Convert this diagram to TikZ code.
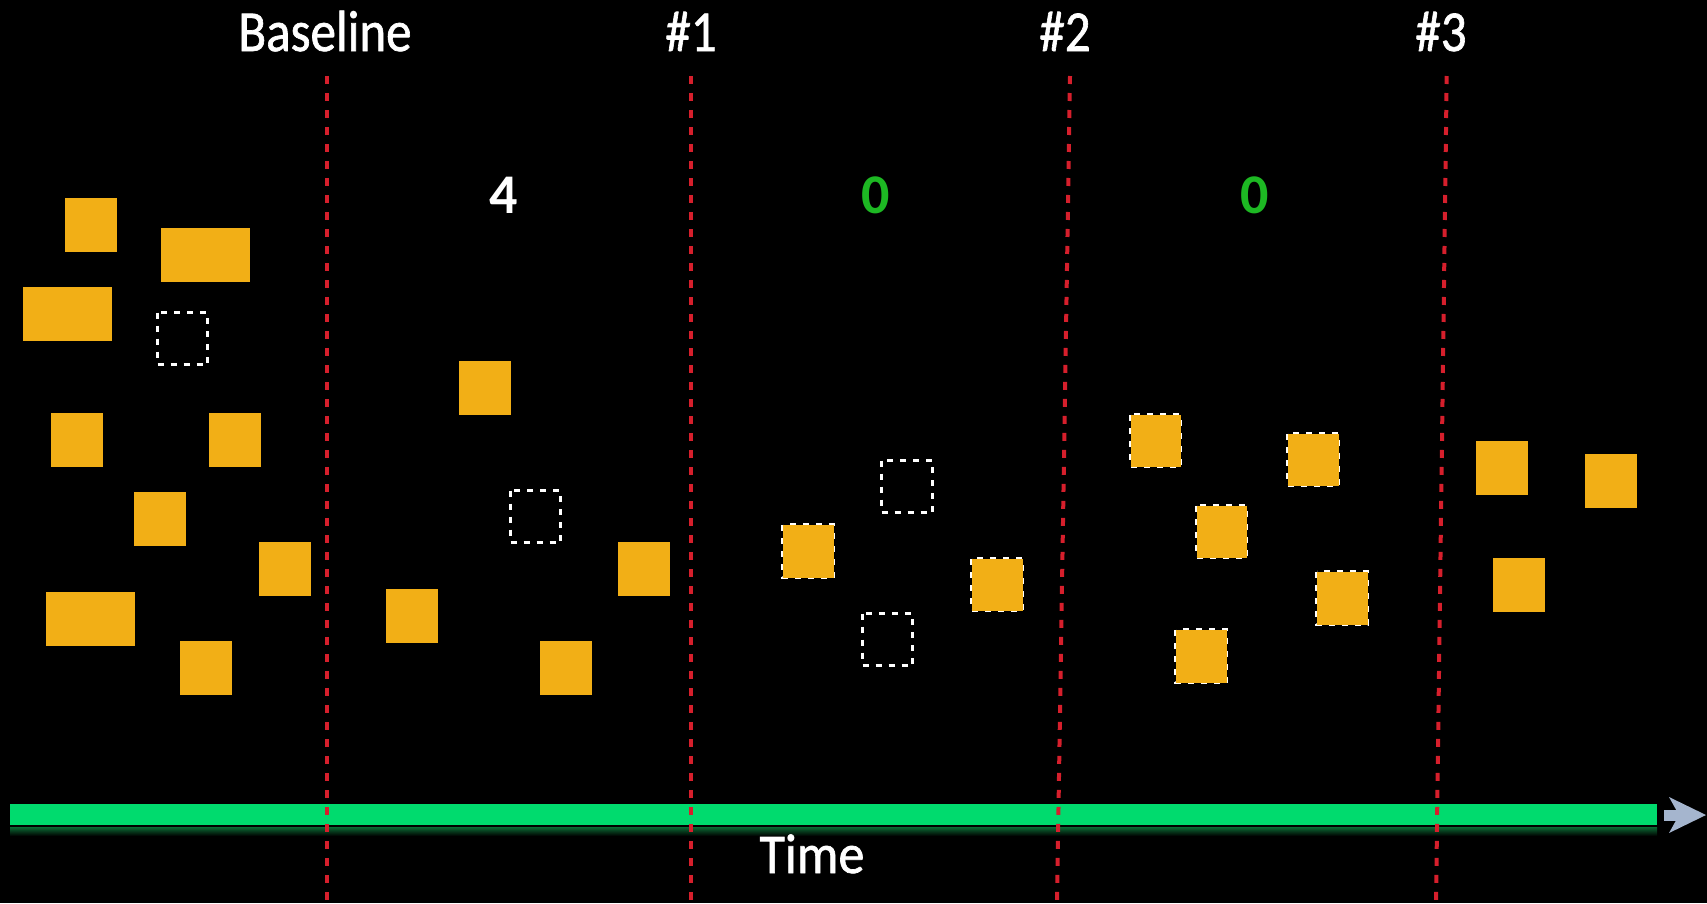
\documentclass[tikz,border=0pt]{standalone}
\usepackage{fontspec}
\setmainfont{Carlito}
\newfontfamily\headfont[FakeBold=1.2]{Carlito}
\definecolor{boxorange}{HTML}{F2AF16}
\definecolor{cutred}{HTML}{D61F2C}
\definecolor{bargreen}{HTML}{00DB6E}
\definecolor{shadowgreen}{HTML}{0B6A34}
\definecolor{zerogreen}{HTML}{1DB823}
\definecolor{arrowgray}{HTML}{A5B5CE}
\tikzset{
  orangebox/.style={fill=boxorange},
  emptybox/.style={draw=white, line width=3pt, dash pattern=on 6pt off 7pt},
  cutline/.style={draw=cutred, line width=4pt, dash pattern=on 8pt off 9pt},
  headlabel/.style={text=white, anchor=base, inner sep=0pt, font=\headfont\fontsize{58}{60}\selectfont, xscale=0.88},
  countlabel/.style={anchor=base, inner sep=0pt, font=\bfseries\fontsize{56}{60}\selectfont},
  timelabel/.style={text=white, anchor=base, inner sep=0pt, font=\headfont\fontsize{56}{60}\selectfont, xscale=0.93},
}
\newcommand{\obox}[4]{\fill[orangebox] (#1,#2) rectangle (#3,#4);}
\newcommand{\ebox}[4]{\draw[emptybox] (#1+1.5,#2+1.5) rectangle (#3-1.5,#4-1.5);}
\newcommand{\bbox}[4]{\draw[emptybox] (#1+1.5,#2+1.5) rectangle (#3-1.5,#4-1.5);
  \fill[orangebox] (#1+1.5,#2+1.5) rectangle (#3-1.5,#4-1.5);}
\begin{document}
\begin{tikzpicture}[x=1pt,y=-1pt]
\fill[black] (0,0) rectangle (1707,903);
\useasboundingbox (0,0) rectangle (1707,903);

% timeline bar with shadow
\shade[top color=shadowgreen, bottom color=black] (10,827) rectangle (1657,836);
\fill[bargreen] (10,804) rectangle (1657,825);
% arrow at the end
\fill[arrowgray] (1664,810) rectangle (1680,821);
\fill[arrowgray] (1669,797) -- (1706,815) -- (1669,833) -- (1679,815) -- cycle;

% section 0 (baseline)
\obox{65}{198}{117}{252}
\obox{161}{228}{250}{282}
\obox{23}{287}{112}{341}
\ebox{156}{311}{209}{366}
\obox{51}{413}{103}{467}
\obox{209}{413}{261}{467}
\obox{134}{492}{186}{546}
\obox{259}{542}{311}{596}
\obox{46}{592}{135}{646}
\obox{180}{641}{232}{695}

% section 1
\obox{459}{361}{511}{415}
\ebox{509}{489}{562}{544}
\obox{618}{542}{670}{596}
\obox{386}{589}{438}{643}
\obox{540}{641}{592}{695}

% section 2
\ebox{880}{459}{934}{514}
\bbox{781}{523}{835}{579}
\bbox{970}{557}{1024}{612}
\ebox{861}{612}{914}{667}

% section 3
\bbox{1129}{413}{1182}{468}
\bbox{1286}{432}{1340}{487}
\bbox{1195}{504}{1248}{559}
\bbox{1315}{570}{1369}{626}
\bbox{1174}{628}{1228}{684}

% section 4
\obox{1476}{441}{1528}{495}
\obox{1585}{454}{1637}{508}
\obox{1493}{558}{1545}{612}

% cut lines
\coordinate (c0t) at (326.7,76);  \coordinate (c0b) at (326.7,903);
\coordinate (c1t) at (691.3,76);  \coordinate (c1b) at (691.3,903);
\coordinate (c2t) at (1070,76);   \coordinate (c2b) at (1057,903);
\coordinate (c3t) at (1446.7,76); \coordinate (c3b) at (1436,903);
\draw[cutline] (c0t) -- (c0b);
\draw[cutline] (c1t) -- (c1b);
\draw[cutline] (c2t) -- (c2b);
\draw[cutline] (c3t) -- (c3b);

% labels
\node[headlabel] (hb) at (325,51) {Baseline};
\node[headlabel] (h1) at (691,51) {\#1};
\node[headlabel] (h2) at (1065,51) {\#2};
\node[headlabel] (h3) at (1441,51) {\#3};
\node[countlabel, text=white] (n1) at (504,213) {4};
\node[countlabel, text=zerogreen] (n2) at (876,213) {0};
\node[countlabel, text=zerogreen] (n3) at (1255,213) {0};
\node[timelabel] (tl) at (812,873) {Time};
\end{tikzpicture}
\end{document}
